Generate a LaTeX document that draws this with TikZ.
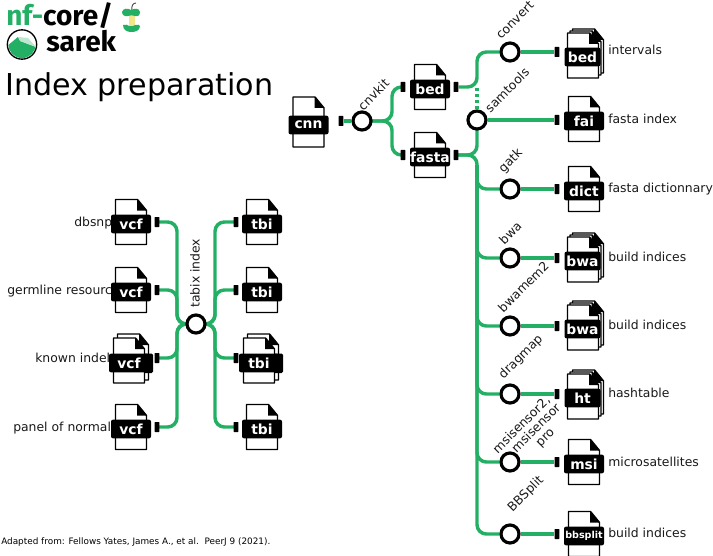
\documentclass[tikz,border=0pt]{standalone}
\usepackage{fontspec}
\usetikzlibrary{backgrounds}
\setmainfont{DejaVu Sans}
\newfontfamily\logofont{Fira Sans}
\definecolor{nfgreen}{HTML}{24B064}
\definecolor{lightg}{HTML}{BFE6CE}
\definecolor{core}{HTML}{F0E68C}
\tikzset{
  flow/.style={draw=nfgreen,line width=2.6pt,rounded corners=7pt},
  stub/.style={fill=black,draw=none,minimum width=3.4pt,minimum height=7.5pt,inner sep=0pt,rounded corners=0.3pt},
  tool/.style={circle,draw=black,fill=white,line width=2.4pt,minimum size=13.5pt,inner sep=0pt},
  filebar/.style={fill=black,text=white,font=\fontsize{10.4}{12}\selectfont\bfseries,rounded corners=1.5pt,inner sep=0pt,minimum width=30pt,minimum height=14pt},
  filebody/.style={draw=black,fill=white,line width=1.1pt,line join=round},
  lab/.style={font=\fontsize{9.3}{11}\selectfont,inner sep=0pt,text=black!90},
  rlab/.style={lab,rotate=45,anchor=west,align=center},
}
% body of a file: centre x, bar-centre y, top offset, bottom offset
\newcommand{\filebodyat}[4]{%
  \draw[filebody] (#1-15.5,#2-#3) -- (#1+6.5,#2-#3) -- (#1+15.5,#2-#3+11) -- (#1+15.5,#2+#4) -- (#1-15.5,#2+#4) -- cycle;
  \fill[black] (#1+6,#2-#3) -- (#1+15.5,#2-#3+11) -- (#1+6,#2-#3+11) -- cycle;
}
\newcommand{\fileicon}[5][]{% [bar opts] name x y label
  \filebodyat{#3}{#4}{24.5}{20.5}
  \node[filebar,#1] (#2) at (#3,#4) {#5};
}
\newcommand{\tallicon}[4]{%
  \filebodyat{#2}{#3}{28}{22}
  \node[filebar] (#1) at (#2,#3) {#4};
}
% pile of three tight sheets
\newcommand{\pileicon}[5][]{%
  \filebodyat{#3+5}{#4-4}{24}{20}
  \filebodyat{#3+2.5}{#4-2}{24}{20}
  \filebodyat{#3}{#4}{24}{21}
  \node[filebar,minimum width=27pt,#1] (#2) at (#3-.5,#4) {#5};
}
% two loose sheets
\newcommand{\twoicon}[4]{%
  \filebodyat{#2+4}{#3-4}{25}{21}
  \fill[black,rounded corners=1pt] (#2-10,#3-9.5) rectangle (#2+24,#3+10);
  \filebodyat{#2}{#3}{25}{20}
  \node[filebar] (#1) at (#2,#3) {#4};
}
\begin{document}
\begin{tikzpicture}[x=0.75pt,y=-0.75pt]
\useasboundingbox (0,0) rectangle (713,556);
% ---- logo
\node[anchor=base west,inner sep=0pt,font=\logofont\bfseries\fontsize{21}{22}\selectfont] (nf) at (6,26) {\textcolor{nfgreen}{nf-}core/};
\node[anchor=base west,inner sep=0pt,font=\logofont\bfseries\fontsize{21}{22}\selectfont] (sarek) at (46,52) {sarek};
\draw[black!70,line width=.7pt] (132,11) .. controls (131,6) and (133,3) .. (136,3);
\fill[core] (129,13) rectangle (135,27);
\fill[nfgreen] (122,12) .. controls (123,8) and (128,8) .. (131,10) .. controls (135,8) and (139,8) .. (140,12) .. controls (140,15) and (138,17) .. (135,16) .. controls (133,15) and (130,15) .. (128,16) .. controls (125,17) and (122,15) .. (122,12) -- cycle;
\fill[nfgreen] (123,25) .. controls (126,24) and (128,25) .. (129,26) .. controls (132,27) and (134,26) .. (135,25) .. controls (137,24) and (140,25) .. (140,26) .. controls (140,31) and (135,32) .. (131,32) .. controls (127,32) and (123,30) .. (123,25) -- cycle;
\draw[black,fill=white,line width=1pt] (22,44.5) circle[radius=11pt];
\begin{scope}
  \clip (22,44.5) circle[radius=10.2pt];
  \fill[nfgreen] (6,47) -- (18,37) -- (20,41) -- (36,47) -- (34,62) -- (6,62) -- cycle;
  \fill[lightg] (18,37) -- (28,38) -- (36,47) -- (20,41) -- cycle;
\end{scope}
\node[anchor=base west,inner sep=0pt,font=\fontsize{22.6}{26}\selectfont] (title) at (5,96) {Index preparation};
\node[anchor=base west,inner sep=0pt,font=\fontsize{6.65}{9}\selectfont] (credit) at (1,544) {Adapted from: Fellows Yates, James A., et al.\ \ PeerJ 9 (2021).};
% ---- coordinates
\coordinate (jC) at (392,121);
\coordinate (jT) at (477,52);
\coordinate (jD) at (477,88);
\coordinate (jB) at (477,534);
\coordinate (jL) at (177,324);
\coordinate (jR) at (215,324);
\coordinate (trunk) at (477,165);
% ---- stubs & tools
\node[stub] (sCnn) at (341,121) {};
\node[stub] (sBedL) at (403,87) {};
\node[stub] (sFaL) at (403,155) {};
\node[stub] (sBedR) at (456,87) {};
\node[stub] (sFaR) at (456,155) {};
\node[stub] (o1) at (557,52) {};
\node[stub] (o2) at (557,120) {};
\node[stub] (o3) at (557,189) {};
\node[stub] (o4) at (557,258) {};
\node[stub] (o5) at (557,326) {};
\node[stub] (o6) at (557,394) {};
\node[stub] (o7) at (557,462) {};
\node[stub] (o8) at (557,534) {};
\node[stub] (i1) at (157,222) {};
\node[stub] (i2) at (157,290) {};
\node[stub] (i3) at (157,358) {};
\node[stub] (i4) at (157,427) {};
\node[stub] (t1) at (236,222) {};
\node[stub] (t2) at (236,290) {};
\node[stub] (t3) at (236,358) {};
\node[stub] (t4) at (236,427) {};
\node[tool] (cnvkit) at (362,121) {};
\node[tool] (convert) at (510,52) {};
\node[tool] (samtools) at (477,120) {};
\node[tool] (gatk) at (510,189) {};
\node[tool] (bwa) at (510,258) {};
\node[tool] (bwamem) at (510,326) {};
\node[tool] (dragmap) at (510,394) {};
\node[tool] (msi) at (510,462) {};
\node[tool] (bbs) at (510,534) {};
\node[tool] (tabix) at (196,324) {};
% ---- connectors
\begin{scope}[on background layer]
\draw[flow] (sCnn) -- (cnvkit);
\draw[flow] (cnvkit.center) -- (jC) |- (sBedL);
\draw[flow] (cnvkit.center) -- (jC) |- (sFaL);
\draw[flow] (sBedR) -| (jT) -- (convert);
\draw[flow] (convert) -- (o1);
\draw[flow,rounded corners=0pt,dash pattern=on 2.2pt off 2.4pt] (jD) -- (samtools);
\draw[flow] (samtools) -- (o2);
\draw[flow] (sFaR.center) -| (samtools.center);
\draw[flow] (sFaR.center) -| (jB) -- (bbs);
\draw[flow] (trunk) |- (gatk);
\draw[flow] (trunk) |- (bwa);
\draw[flow] (trunk) |- (bwamem);
\draw[flow] (trunk) |- (dragmap);
\draw[flow] (trunk) |- (msi);
\draw[flow] (gatk) -- (o3);
\draw[flow] (bwa) -- (o4);
\draw[flow] (bwamem) -- (o5);
\draw[flow] (dragmap) -- (o6);
\draw[flow] (msi) -- (o7);
\draw[flow] (bbs) -- (o8);
\draw[flow] (i1.center) -| (jL) -- (tabix.center);
\draw[flow] (i2.center) -| (jL) -- (tabix.center);
\draw[flow] (i3.center) -| (jL) -- (tabix.center);
\draw[flow] (i4.center) -| (jL) -- (tabix.center);
\draw[flow] (t1.center) -| (jR) -- (tabix.center);
\draw[flow] (t2.center) -| (jR) -- (tabix.center);
\draw[flow] (t3.center) -| (jR) -- (tabix.center);
\draw[flow] (t4.center) -| (jR) -- (tabix.center);
\end{scope}
% ---- side labels (files lie over them)
\node[lab,anchor=base west] (ldb) at (74,226) {dbsnp};
\node[lab,anchor=base west] (lge) at (7,294) {germline resources};
\node[lab,anchor=base west] (lkn) at (35,362) {known indels};
\node[lab,anchor=base west] (lpa) at (13,431) {panel of normals};
\node[lab,anchor=base west] (r1) at (608,55) {intervals};
\node[lab,anchor=base west] (r2) at (608,123) {fasta index};
\node[lab,anchor=base west] (r3) at (608,192) {fasta dictionnary};
\node[lab,anchor=base west] (r4) at (608,261) {build indices};
\node[lab,anchor=base west] (r5) at (608,329) {build indices};
\node[lab,anchor=base west] (r6) at (608,397) {hashtable};
\node[lab,anchor=base west] (r7) at (608,466) {microsatellites};
\node[lab,anchor=base west] (r8) at (608,537) {build indices};
% ---- tool labels
\node[rlab] (lcnv) at (360,108) {cnvkit};
\node[rlab] (lconv) at (498,37) {convert};
\node[rlab] (lsam) at (487,110) {samtools};
\node[rlab] (lgatk) at (501,171) {gatk};
\node[rlab] (lbwa) at (501,242) {bwa};
\node[rlab] (lbwm) at (500,310) {bwamem2};
\node[rlab] (ldra) at (501,377) {dragmap};
\node[rlab,anchor=center,font=\fontsize{9.3}{9.5}\selectfont] (lmsi) at (536.5,428.5) {msisensor2,\hspace*{12pt}\\msisensor\\pro};
\node[rlab] (lbbs) at (510,510) {BBSplit};
\node[lab,rotate=90,anchor=west] (ltab) at (195,308) {tabix index};
% ---- files
\tallicon{cnn}{308.5}{125}{cnn}
\fileicon{bedA}{430}{89}{bed}
\fileicon{fastaA}{430}{157}{fasta}
\pileicon{bedB}{583}{57}{bed}
\fileicon{fai}{584}{121}{fai}
\fileicon{dict}{584}{191}{dict}
\pileicon{bwaA}{583}{261}{bwa}
\pileicon{bwaB}{583}{329}{bwa}
\pileicon{ht}{583}{398}{ht}
\fileicon{msif}{584}{464}{msi}
\fileicon[font=\fontsize{7.2}{9}\selectfont\bfseries]{bbsf}{584}{536}{bbsplit}
\fileicon{v1}{131}{224}{vcf}
\fileicon{v2}{131}{292}{vcf}
\twoicon{v3}{129}{363}{vcf}
\fileicon{v4}{131}{429}{vcf}
\fileicon{b1}{262}{224}{tbi}
\fileicon{b2}{262}{292}{tbi}
\twoicon{b3}{259}{363}{tbi}
\fileicon{b4}{262}{429}{tbi}
\end{tikzpicture}
\end{document}
